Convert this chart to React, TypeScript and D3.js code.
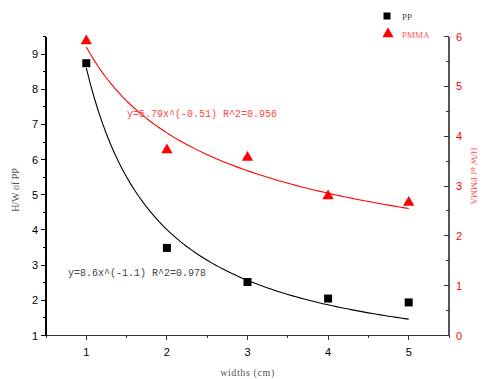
import React, { useEffect, useRef } from "react";
import * as d3 from "d3";

// widths (cm)
const widths = [1, 2, 3, 4, 5];
const ppValues = [8.74, 3.49, 2.52, 2.05, 1.94];
const pmmaValues = [5.91, 3.72, 3.57, 2.8, 2.67];
const xTicks = [1, 2, 3, 4, 5];
const leftTicks = [1, 2, 3, 4, 5, 6, 7, 8, 9];
const rightTicks = [0, 1, 2, 3, 4, 5, 6];
// power fits y = a * x^b
const ppFit = { a: 8.6, b: -1.1 };
const pmmaFit = { a: 5.79, b: -0.51 };

const W = 482, H = 379;

const App = () => {
  const ref = useRef<SVGSVGElement>(null);

  useEffect(() => {
    const svg = d3.select(ref.current);
    svg.selectAll("*").remove();

    const left = 46, right = 449, top = 36.5, bottom = 335.5;
    const x = d3.scaleLinear().domain([0.5, 5.5]).range([left, right]);
    const yL = d3.scaleLinear().domain([1, 9.5]).range([bottom, top]);
    const yR = d3.scaleLinear().domain([0, 6]).range([bottom, top]);

    const numFont = "Liberation Sans, Arial, sans-serif";
    const serif = "Liberation Serif, serif";

    // fit curves
    const xs = d3.range(1, 5.0001, 0.05);
    const line = (fit: { a: number; b: number }, ys: d3.ScaleLinear<number, number>) =>
      d3.line<number>().x(d => x(d)).y(d => ys(fit.a * Math.pow(d, fit.b)))(xs);

    svg.append("path").attr("d", line(ppFit, yL)).attr("fill", "none")
      .attr("stroke", "#000").attr("stroke-width", 1.1);
    svg.append("path").attr("d", line(pmmaFit, yR)).attr("fill", "none")
      .attr("stroke", "#ff0000").attr("stroke-width", 1.1);

    // bottom axis
    const g = svg.append("g").attr("shape-rendering", "crispEdges");
    g.append("line").attr("x1", left).attr("x2", right).attr("y1", bottom).attr("y2", bottom)
      .attr("stroke", "#333").attr("stroke-width", 1.5);
    d3.range(0.5, 5.51, 0.5).forEach(v => {
      const major = Number.isInteger(v);
      g.append("line").attr("x1", x(v)).attr("x2", x(v)).attr("y1", bottom)
        .attr("y2", bottom + (major ? 4 : 2.5)).attr("stroke", "#333").attr("stroke-width", 1);
    });
    xTicks.forEach(v => {
      svg.append("text").attr("x", x(v)).attr("y", bottom + 20).attr("text-anchor", "middle")
        .attr("font-family", numFont).attr("font-size", 11).attr("fill", "#000").text(v);
    });

    // left axis
    g.append("line").attr("x1", left).attr("x2", left).attr("y1", top).attr("y2", bottom)
      .attr("stroke", "#000").attr("stroke-width", 1.5);
    d3.range(1, 9.51, 0.5).forEach(v => {
      const major = Number.isInteger(v);
      g.append("line").attr("x1", left).attr("x2", left - (major ? 5 : 3))
        .attr("y1", yL(v)).attr("y2", yL(v)).attr("stroke", "#000").attr("stroke-width", 1);
    });
    leftTicks.forEach(v => {
      svg.append("text").attr("x", left - 8).attr("y", yL(v) + 4).attr("text-anchor", "end")
        .attr("font-family", numFont).attr("font-size", 11).attr("fill", "#000").text(v);
    });

    // right axis
    g.append("line").attr("x1", right).attr("x2", right).attr("y1", top).attr("y2", bottom)
      .attr("stroke", "#555").attr("stroke-width", 1.5);
    d3.range(0, 6.01, 0.5).forEach(v => {
      const major = Number.isInteger(v);
      g.append("line").attr("x1", right).attr("x2", right - (major ? 5 : 3))
        .attr("y1", yR(v)).attr("y2", yR(v)).attr("stroke", "#333").attr("stroke-width", 1);
    });
    rightTicks.forEach(v => {
      svg.append("text").attr("x", right + 7).attr("y", yR(v) + 4).attr("text-anchor", "start")
        .attr("font-family", numFont).attr("font-size", 11).attr("fill", "#ff0000").text(v);
    });

    // axis titles
    svg.append("text").attr("transform", `translate(19,${(top + bottom) / 2 + 4}) rotate(-90)`)
      .attr("text-anchor", "middle").attr("font-family", serif).attr("font-size", 10)
      .attr("fill", "#555").text("H/W of PP");
    svg.append("text").attr("transform", `translate(471,${(top + bottom) / 2 - 10}) rotate(90)`)
      .attr("text-anchor", "middle").attr("font-family", serif).attr("font-size", 9)
      .attr("fill", "#ff5555").text("H/W of PMMA");
    svg.append("text").attr("x", (left + right) / 2).attr("y", 376).attr("text-anchor", "middle")
      .attr("font-family", serif).attr("font-size", 10).attr("letter-spacing", 0.6)
      .attr("fill", "#555").text("widths (cm)");

    // markers
    const sym = (type: d3.SymbolType, size: number) => d3.symbol().type(type).size(size)();
    widths.forEach((w, i) => {
      svg.append("path").attr("d", sym(d3.symbolSquare, 64))
        .attr("transform", `translate(${x(w)},${yL(ppValues[i])})`).attr("fill", "#000");
      svg.append("path").attr("d", sym(d3.symbolTriangle, 55))
        .attr("transform", `translate(${x(w)},${yR(pmmaValues[i])})`).attr("fill", "#ff0000");
    });

    // equations
    svg.append("text").attr("x", 127).attr("y", 117).attr("font-family", "Liberation Mono, monospace")
      .attr("font-size", 10).attr("fill", "#ff4444").text("y=5.79x^(-0.51) R^2=0.956");
    svg.append("text").attr("x", 68).attr("y", 276).attr("font-family", "Liberation Mono, monospace")
      .attr("font-size", 10).attr("fill", "#444").text("y=8.6x^(-1.1) R^2=0.978");

    // legend
    svg.append("path").attr("d", sym(d3.symbolSquare, 49))
      .attr("transform", "translate(387,16)").attr("fill", "#000");
    svg.append("text").attr("x", 402).attr("y", 20).attr("font-family", serif)
      .attr("font-size", 9).attr("fill", "#444").text("PP");
    svg.append("path").attr("d", sym(d3.symbolTriangle, 55))
      .attr("transform", "translate(388,34)").attr("fill", "#ff0000");
    svg.append("text").attr("x", 402).attr("y", 38).attr("font-family", serif)
      .attr("font-size", 9).attr("fill", "#ff5555").text("PMMA");
  }, []);

  return (
    <svg ref={ref} width={W} height={H}
      style={{ position: "absolute", left: 0, top: 0, background: "#fff" }} />
  );
};

export default App;
